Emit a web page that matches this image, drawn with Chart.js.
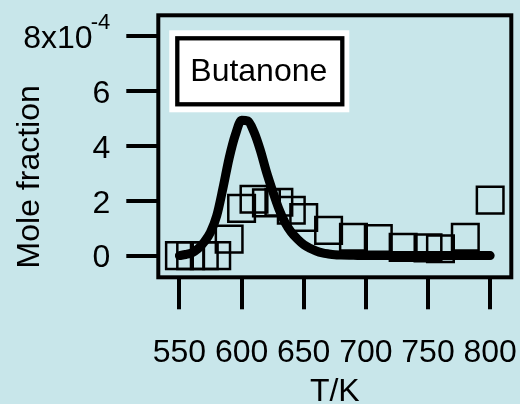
<!DOCTYPE html>
<html>
<head>
<meta charset="utf-8">
<script src="https://cdn.jsdelivr.net/npm/chart.js@4.4.1/dist/chart.umd.min.js"></script>
<style>
  html, body { margin: 0; padding: 0; background: #c8e6ea; }
  canvas { display: block; }
</style>
</head>
<body>
<canvas id="chart" width="520" height="404"></canvas>
<script>
// Measured butanone mole fraction (units of 1e-4) against temperature (K)
const measuredT = [550, 559, 570, 580, 590, 600, 610, 620, 630, 640, 650, 670, 690, 710, 730, 750, 760, 780, 800];
const measuredX = [0, 0, 0, 0, 0.6, 1.72, 2.05, 1.92, 1.94, 1.65, 1.39, 0.92, 0.67, 0.62, 0.3, 0.28, 0.25, 0.67, 2.02];

// Model prediction (units of 1e-4)
const modelT = [550, 555, 560, 565, 570, 575, 580, 585, 590, 595, 600, 605, 610, 615, 620, 625, 630, 635, 640, 645,
                650, 655, 660, 665, 670, 675, 680, 690, 700, 720, 740, 760, 780, 800];
const modelX = [0, 0.04, 0.1, 0.25, 0.5, 0.85, 1.45, 2.45, 3.55, 4.4, 4.93, 4.9, 4.5, 3.85, 3.05, 2.35, 1.7, 1.2, 0.85, 0.6,
                0.4, 0.27, 0.17, 0.1, 0.06, 0.03, 0.02, 0.01, 0, 0, 0, 0, 0, 0];

const xTicks = [550, 600, 650, 700, 750, 800];
const yTicks = [0, 2, 4, 6, 8];
const seriesName = 'Butanone';
const xTitle = 'T/K';
const yTitle = 'Mole fraction';
const yExponent = '-4';

const FONT = '"Liberation Sans", Arial, Helvetica, sans-serif';
Chart.defaults.font.family = FONT;
Chart.defaults.color = '#000';

const TICK_LEN = 32;
const Y_PAD = 16;

// Frame around the plot, the name box and the exponent of the top y label
const decorations = {
  id: 'decorations',
  afterDraw(chart) {
    const { ctx, chartArea: a, scales } = chart;
    ctx.save();
    ctx.strokeStyle = '#000';
    ctx.lineWidth = 4;
    ctx.strokeRect(a.left, a.top, a.right - a.left, a.bottom - a.top);

    // name box
    const bx = a.left + 11, by = a.top + 15;
    ctx.fillStyle = '#fff';
    ctx.fillRect(bx, by, 180, 82);
    ctx.lineWidth = 4.3;
    ctx.strokeRect(bx + 8, by + 8, 165, 66);
    ctx.fillStyle = '#000';
    ctx.font = '32px ' + FONT;
    ctx.textAlign = 'center';
    ctx.textBaseline = 'middle';
    ctx.fillText(seriesName, bx + 89.5, by + 42);

    // exponent of the top tick label
    const ys = scales.y;
    const top = ys.getPixelForValue(yTicks[yTicks.length - 1]);
    const labelRight = ys.right - TICK_LEN - Y_PAD;
    ctx.font = '22px ' + FONT;
    ctx.textAlign = 'right';
    ctx.textBaseline = 'alphabetic';
    ctx.fillText(yExponent, labelRight, top - 7);
    ctx.restore();
  }
};

const tickFont = { size: 32, family: FONT };
const gridOpts = {
  display: true, drawOnChartArea: false, drawTicks: true,
  tickLength: TICK_LEN, tickWidth: 4, lineWidth: 4, tickColor: '#000', color: '#000'
};

new Chart(document.getElementById('chart'), {
  type: 'scatter',
  data: {
    datasets: [
      {
        label: seriesName + ' model',
        data: modelT.map((t, i) => ({ x: t, y: modelX[i] })),
        showLine: true,
        borderColor: '#000',
        borderWidth: 9,
        borderCapStyle: 'round',
        borderJoinStyle: 'round',
        cubicInterpolationMode: 'monotone',
        pointRadius: 0,
        pointHoverRadius: 0
      },
      {
        label: seriesName,
        data: measuredT.map((t, i) => ({ x: t, y: measuredX[i] })),
        showLine: false,
        pointStyle: 'rect',
        pointRadius: 18.8,
        pointHoverRadius: 18.8,
        pointBorderWidth: 2.5,
        pointBorderColor: '#000',
        pointBackgroundColor: 'rgba(0,0,0,0)'
      }
    ]
  },
  options: {
    responsive: false,
    animation: false,
    events: [],
    layout: { autoPadding: false, padding: { top: 15.3, right: 8.7, bottom: 0, left: 0 } },
    plugins: { legend: { display: false }, tooltip: { enabled: false } },
    scales: {
      x: {
        type: 'linear',
        min: 533, max: 817,
        afterBuildTicks: s => { s.ticks = xTicks.map(v => ({ value: v })); },
        afterFit: s => { s.height = 126.7; s.paddingLeft = 0; s.paddingRight = 0; },
        ticks: { font: tickFont, color: '#000', padding: 24.5, autoSkip: false, maxRotation: 0, minRotation: 0 },
        grid: gridOpts,
        border: { display: false },
        title: { display: true, text: xTitle, font: tickFont, color: '#000', padding: { top: 0, bottom: -7 } }
      },
      y: {
        type: 'linear',
        min: -0.79, max: 8.75,
        afterBuildTicks: s => { s.ticks = yTicks.map(v => ({ value: v })); },
        afterFit: s => { s.width = 158.3; s.paddingTop = 0; s.paddingBottom = 0; },
        ticks: {
          font: tickFont, color: '#000', padding: Y_PAD, labelOffset: 3,
          callback: v => (v === yTicks[yTicks.length - 1] ? v + 'x10  ' : String(v))
        },
        grid: gridOpts,
        border: { display: false },
        title: { display: true, text: ' ' + yTitle, align: 'start', font: tickFont, color: '#000', padding: { top: 11, bottom: 0 } }
      }
    }
  },
  plugins: [decorations]
});
</script>
</body>
</html>
